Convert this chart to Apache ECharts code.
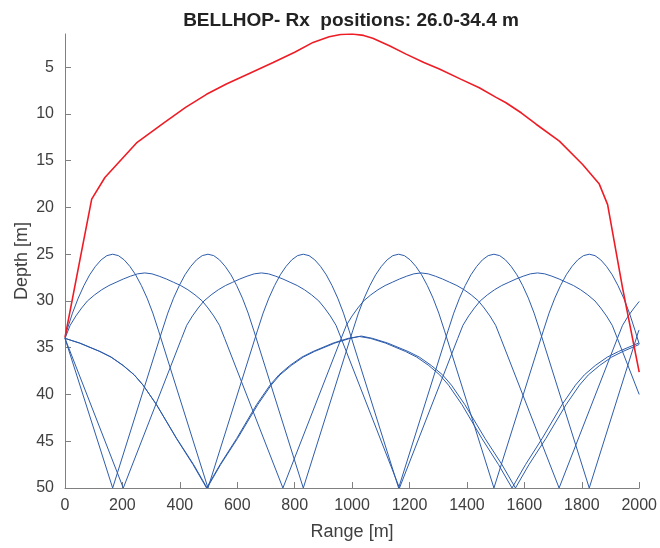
<!DOCTYPE html>
<html>
<head>
<meta charset="utf-8">
<title>BELLHOP rays</title>
<script src="https://cdn.jsdelivr.net/npm/echarts@6/dist/echarts.min.js"></script>
<style>
  html, body { margin: 0; padding: 0; background: #fff; }
  #chart { width: 660px; height: 548px; }
</style>
</head>
<body>
<div id="chart"></div>
<script>
// tick labels
const rangeTicks = [0, 200, 400, 600, 800, 1000, 1200, 1400, 1600, 1800, 2000]
const depthTicks = [5, 10, 15, 20, 25, 30, 35, 40, 45, 50]

// receiver curve (red) [range m, depth m]
const rxCurve = [[0, 33.9], [52, 25.6], [93, 19.1], [139, 16.8], [249, 13.1], [342, 11.0], [420, 9.3],
  [493, 7.9], [562, 6.8], [640, 5.7], [725, 4.5], [800, 3.4], [864, 2.35], [920, 1.75], [960, 1.5],
  [1000, 1.45], [1040, 1.6], [1072, 1.9], [1130, 2.7], [1188, 3.6], [1250, 4.5], [1304, 5.2],
  [1380, 6.3], [1443, 7.2], [1500, 8.2], [1536, 8.8], [1590, 9.9], [1641, 11.1], [1722, 12.9],
  [1803, 15.4], [1861, 17.5], [1890, 19.7], [1942, 28.6], [2000, 37.6]]

// steep ray launched up, turning at ~25 m
const rayUp25 = [[0, 34], [6, 33.2], [26, 31.3], [46, 29.7], [66, 28.35], [86, 27.2], [106, 26.3], [126, 25.6],
  [146, 25.15], [166, 25.0], [186, 25.15], [206, 25.6], [226, 26.3], [246, 27.2], [266, 28.35], [286, 29.7],
  [306, 31.3], [326, 33.2], [498, 50],
  [670, 33.2], [690, 31.3], [710, 29.7], [730, 28.35], [750, 27.2], [770, 26.3], [790, 25.6], [810, 25.15],
  [830, 25.0], [850, 25.15], [870, 25.6], [890, 26.3], [910, 27.2], [930, 28.35], [950, 29.7], [970, 31.3],
  [990, 33.2], [1162, 50],
  [1334, 33.2], [1354, 31.3], [1374, 29.7], [1394, 28.35], [1414, 27.2], [1434, 26.3], [1454, 25.6], [1474, 25.15],
  [1494, 25.0], [1514, 25.15], [1534, 25.6], [1554, 26.3], [1574, 27.2], [1594, 28.35], [1614, 29.7], [1634, 31.3],
  [1654, 33.2], [1826, 50], [1998, 33.2], [2000, 33.1]]

// steep ray launched down, turning at ~25 m
const rayDown25 = [[0, 34], [166, 50],
  [338, 33.2], [358, 31.3], [378, 29.7], [398, 28.35], [418, 27.2], [438, 26.3], [458, 25.6], [478, 25.15],
  [498, 25.0], [518, 25.15], [538, 25.6], [558, 26.3], [578, 27.2], [598, 28.35], [618, 29.7], [638, 31.3],
  [658, 33.2], [830, 50],
  [1002, 33.2], [1022, 31.3], [1042, 29.7], [1062, 28.35], [1082, 27.2], [1102, 26.3], [1122, 25.6], [1142, 25.15],
  [1162, 25.0], [1182, 25.15], [1202, 25.6], [1222, 26.3], [1242, 27.2], [1262, 28.35], [1282, 29.7], [1302, 31.3],
  [1322, 33.2], [1494, 50],
  [1666, 33.2], [1686, 31.3], [1706, 29.7], [1726, 28.35], [1746, 27.2], [1766, 26.3], [1786, 25.6], [1806, 25.15],
  [1826, 25.0], [1846, 25.15], [1866, 25.6], [1886, 26.3], [1906, 27.2], [1926, 28.35], [1946, 29.7], [1966, 31.3],
  [1986, 33.2], [2000, 34.6]]

// ray launched up, turning at ~27 m
const rayUp27 = [[0, 34], [18, 32.6], [38, 31.6], [58, 30.75], [78, 30.0], [103, 29.35], [128, 28.8], [153, 28.35],
  [178, 28.0], [203, 27.65], [228, 27.35], [253, 27.1], [278, 27.0], [303, 27.1], [328, 27.35], [353, 27.65],
  [378, 28.0], [403, 28.35], [428, 28.8], [453, 29.35], [478, 30.0], [498, 30.75], [518, 31.6], [538, 32.6],
  [556, 34.0], [759, 50],
  [962, 34.0], [980, 32.6], [1000, 31.6], [1020, 30.75], [1040, 30.0], [1065, 29.35], [1090, 28.8], [1115, 28.35],
  [1140, 28.0], [1165, 27.65], [1190, 27.35], [1215, 27.1], [1240, 27.0], [1265, 27.1], [1290, 27.35], [1315, 27.65],
  [1340, 28.0], [1365, 28.35], [1390, 28.8], [1415, 29.35], [1440, 30.0], [1460, 30.75], [1480, 31.6], [1500, 32.6],
  [1518, 34.0], [1721, 50],
  [1924, 34.0], [1942, 32.6], [1962, 31.6], [1982, 30.75], [2000, 30.05]]

// ray launched down, turning at ~27 m
const rayDown27 = [[0, 34], [203, 50],
  [406, 34.0], [424, 32.6], [444, 31.6], [464, 30.75], [484, 30.0], [509, 29.35], [534, 28.8], [559, 28.35],
  [584, 28.0], [609, 27.65], [634, 27.35], [659, 27.1], [684, 27.0], [709, 27.1], [734, 27.35], [759, 27.65],
  [784, 28.0], [809, 28.35], [834, 28.8], [859, 29.35], [884, 30.0], [904, 30.75], [924, 31.6], [944, 32.6],
  [962, 34.0], [1165, 50],
  [1368, 34.0], [1386, 32.6], [1406, 31.6], [1426, 30.75], [1446, 30.0], [1471, 29.35], [1496, 28.8], [1521, 28.35],
  [1546, 28.0], [1571, 27.65], [1596, 27.35], [1621, 27.1], [1646, 27.0], [1671, 27.1], [1696, 27.35], [1721, 27.65],
  [1746, 28.0], [1771, 28.35], [1796, 28.8], [1821, 29.35], [1846, 30.0], [1866, 30.75], [1886, 31.6], [1906, 32.6],
  [1924, 34.0], [2000, 40.0]]

// near-horizontal rays, turning at ~33.8 m
const rayFlatA = [[0, 34.0], [52, 34.5], [122, 35.4], [161, 36.0], [203, 36.9], [241, 37.9], [272, 39.0], [319, 41.1],
  [388, 44.7], [446, 47.5], [493, 50],
  [540, 47.5], [598, 44.7], [667, 41.1], [714, 39.0], [745, 37.9], [783, 36.9], [825, 36.0], [864, 35.4],
  [934, 34.5], [986, 34.0], [1025, 33.8], [1064, 34.0], [1116, 34.5], [1186, 35.4], [1225, 36.0], [1267, 36.9],
  [1305, 37.9], [1336, 39.0], [1383, 41.1], [1452, 44.7], [1510, 47.5], [1557, 50],
  [1604, 47.5], [1662, 44.7], [1731, 41.1], [1778, 39.0], [1809, 37.9], [1847, 36.9], [1889, 36.0], [1928, 35.4],
  [1998, 34.5], [2000, 34.48]]

const rayFlatB = [[0, 34.0], [50, 34.5], [121, 35.4], [160, 36.0], [202, 36.9], [241, 37.9], [272, 39.0], [319, 41.1],
  [389, 44.7], [448, 47.5], [495, 50],
  [542, 47.5], [601, 44.7], [671, 41.1], [718, 39.0], [749, 37.9], [788, 36.9], [830, 36.0], [869, 35.4],
  [940, 34.5], [993, 34.0], [1032, 33.75], [1071, 34.0], [1124, 34.5], [1195, 35.4], [1234, 36.0], [1276, 36.9],
  [1315, 37.9], [1346, 39.0], [1393, 41.1], [1463, 44.7], [1522, 47.5], [1569, 50],
  [1616, 47.5], [1675, 44.7], [1745, 41.1], [1792, 39.0], [1823, 37.9], [1862, 36.9], [1904, 36.0], [1943, 35.4],
  [2000, 34.65]]

const rayColor = '#2d5cab'
const textColor = '#404040'
const fontFamily = 'Liberation Sans, Arial, sans-serif'

const rays = [rayUp25, rayDown25, rayUp27, rayDown27, rayFlatA, rayFlatB]

const series = rays.map(function (r) {
  return {
    type: 'line',
    data: r,
    showSymbol: false,
    lineStyle: { color: rayColor, width: 1 },
    silent: true
  }
})
series.push({
  type: 'line',
  data: rxCurve,
  showSymbol: false,
  lineStyle: { color: '#ee1c25', width: 1.6 },
  silent: true
})

const chart = echarts.init(document.getElementById('chart'))
chart.setOption({
  animation: false,
  backgroundColor: '#fff',
  title: {
    text: 'BELLHOP- Rx  positions: 26.0-34.4 m',
    left: 346,
    textAlign: 'center',
    top: 6,
    textStyle: { fontSize: 19, fontWeight: 'bold', color: '#222', fontFamily: fontFamily }
  },
  grid: { left: 65, right: 20, top: 34, bottom: 60 },
  xAxis: {
    type: 'value',
    min: 0,
    max: 2000,
    interval: 200,
    name: 'Range [m]',
    nameLocation: 'middle',
    nameGap: 35,
    nameMoveOverlap: false,
    nameTextStyle: { fontSize: 18, color: textColor, fontFamily: fontFamily },
    axisLine: { lineStyle: { color: '#808080' } },
    axisTick: { inside: true, length: 6, lineStyle: { color: '#808080' }, customValues: rangeTicks },
    axisLabel: {
      fontSize: 16, color: textColor, margin: 10, fontFamily: fontFamily, customValues: rangeTicks,
      formatter: function (v) { return String(v) }
    },
    splitLine: { show: false }
  },
  yAxis: {
    type: 'value',
    inverse: true,
    min: 1.45,
    max: 50,
    name: 'Depth [m]',
    nameLocation: 'middle',
    nameGap: 34,
    nameRotate: 90,
    nameMoveOverlap: false,
    nameTextStyle: { fontSize: 18, color: textColor, fontFamily: fontFamily },
    axisLine: { show: true, lineStyle: { color: '#808080' } },
    axisTick: { show: true, inside: true, length: 6, lineStyle: { color: '#808080' }, customValues: depthTicks },
    axisLabel: { fontSize: 16, color: textColor, margin: 11, fontFamily: fontFamily, customValues: depthTicks },
    splitLine: { show: false }
  },
  series: series
})
</script>
</body>
</html>
